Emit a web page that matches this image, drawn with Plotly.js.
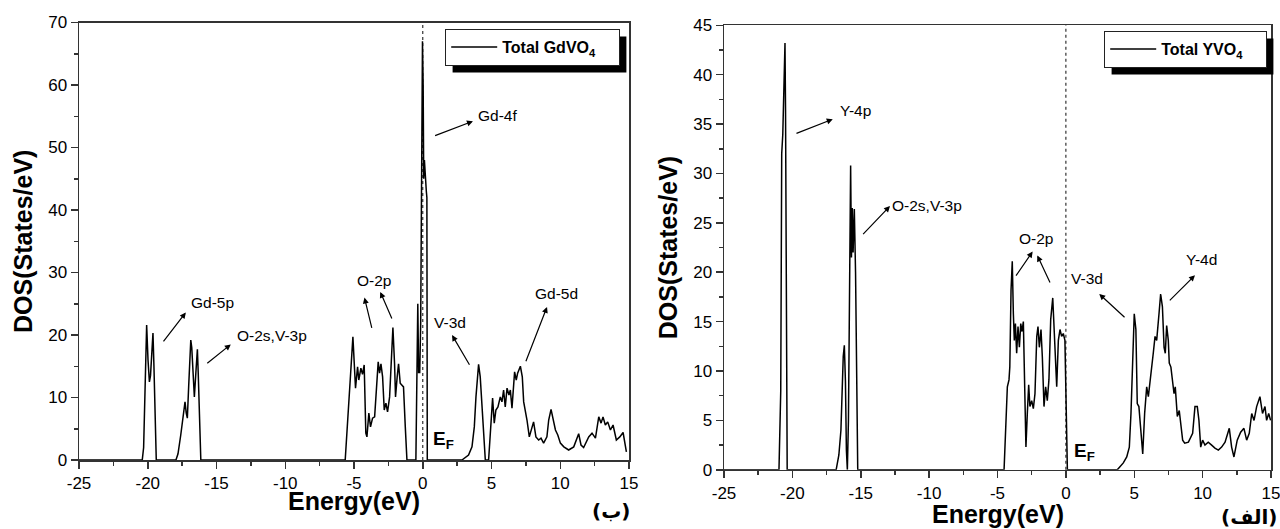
<!DOCTYPE html>
<html><head><meta charset="utf-8">
<script src="https://cdn.plot.ly/plotly-3.0.1.min.js"></script>
<style>html,body{margin:0;padding:0;background:#fff;} #chart{width:1280px;height:529px;}</style>
</head><body><div id="chart"></div>
<script>
// ---------- data ----------
const gdEnergy = [-25, -20.4, -20.3, -20.2, -20.08, -19.98, -19.88, -19.8, -19.72, -19.62, -19.55, -19.45, -19.38,
  -17.95, -17.8, -17.6, -17.4, -17.29, -17.2, -17.12, -17.02, -16.94, -16.87, -16.8, -16.7, -16.61, -16.5, -16.39, -16.33, -16.22, -16.14,
  -5.64, -5.35, -5.23, -5.08, -4.96, -4.89, -4.74, -4.65, -4.50, -4.38, -4.26, -4.14, -4.06, -3.92, -3.8, -3.65, -3.5, -3.33, -3.24, -3.14,
  -3.04, -2.92, -2.8, -2.68, -2.56, -2.41, -2.29, -2.17, -2.05, -1.98, -1.86, -1.76, -1.64, -1.52, -1.40, -1.27, -1.15,
  -0.5, -0.42, -0.36, -0.3, -0.22, -0.15, -0.08, -0.02, 0.03, 0.07, 0.12, 0.18, 0.26, 0.3, 0.33,
  2.85, 3.33, 3.58, 3.75, 3.87, 4.06, 4.18, 4.31, 4.43, 4.55, 4.79, 4.96, 5.08, 5.2, 5.32, 5.47, 5.64, 5.76, 5.88, 6.0,
  6.13, 6.27, 6.37, 6.49, 6.61, 6.68, 6.8, 6.9, 7.1, 7.24, 7.34, 7.46, 7.58, 7.75, 7.89, 8.06, 8.23, 8.43, 8.6, 8.79,
  9.03, 9.16, 9.33, 9.48, 9.65, 9.82, 10.01, 10.26, 10.61, 10.98, 11.34, 11.51, 11.7, 12.07, 12.31, 12.56, 12.8, 12.97, 13.11, 13.28,
  13.45, 13.65, 13.84, 14.08, 14.33, 14.57, 14.69, 14.81];
const gdDos = [0, 0, 2, 12, 21.6, 16, 12.5, 13.5, 16, 20.3, 15, 4, 0,
  0, 1, 4, 8, 9.3, 7.5, 6.7, 12, 17, 19.2, 18, 12.5, 10.1, 14, 17.7, 14, 5, 0,
  0, 9.05, 14.4, 19.7, 14.9, 11.5, 14.9, 12.8, 14.7, 13.7, 15.2, 4.3, 3.7, 7.5, 5.3, 6.7, 6.9, 12.3, 15.7, 13.9,
  15.4, 13.3, 8.0, 9.1, 7.7, 10.1, 15.4, 21.2, 15.4, 10.1, 13.3, 15.4, 12.3, 12.0, 11.7, 5.3, 0,
  0, 12, 25, 14, 14, 22, 40, 67, 60, 45, 48, 45, 43, 42, 0,
  0, 0.8, 2.1, 5.3, 10.1, 15.3, 13.3, 9.1, 5.3, 0, 0, 6.9, 9.9, 5.9, 8.0, 8.5, 10.1, 9.3, 11.2, 8.5,
  11.5, 10.4, 11.2, 8.3, 12.8, 14.1, 12.8, 13.9, 15.0, 13.3, 9.3, 8.0, 6.4, 3.7, 4.8, 6.1, 3.7, 3.2, 3.5, 2.7,
  3.7, 6.4, 8.1, 6.4, 4.8, 4.0, 2.7, 2.1, 1.6, 2.1, 4.2, 2.4, 2.0, 3.7, 4.3, 3.5, 6.9, 5.9, 6.9, 5.6,
  6.1, 4.8, 5.6, 3.2, 3.7, 4.4, 2.9, 1.3];

const yEnergy = [-25, -20.98, -20.85, -20.78, -20.7, -20.6, -20.54, -20.5, -20.45, -20.38,
  -16.8, -16.6, -16.45, -16.35, -16.28, -16.2, -16.12, -16.05, -15.98, -15.9, -15.82, -15.74, -15.68, -15.62, -15.56, -15.47, -15.38, -15.3, -15.22,
  -4.52, -4.28, -4.16, -4.1, -4.01, -3.92, -3.84, -3.77, -3.69, -3.60, -3.5, -3.4, -3.30, -3.21, -3.11, -3.01, -2.92, -2.82, -2.72, -2.63,
  -2.50, -2.38, -2.26, -2.13, -2.04, -1.94, -1.82, -1.72, -1.6, -1.48, -1.36, -1.24, -1.11, -0.96, -0.86, -0.77, -0.67, -0.55, -0.43, -0.31,
  -0.19, -0.07, 0.01, 0.11,
  3.76, 4.20, 4.45, 4.64, 4.76, 4.89, 5.0, 5.12, 5.22, 5.34, 5.47, 5.62, 5.76, 5.91, 6.03, 6.15, 6.27, 6.39, 6.52, 6.64,
  6.81, 6.93, 7.06, 7.18, 7.27, 7.37, 7.49, 7.56, 7.68, 7.81, 7.91, 8.0, 8.15, 8.29, 8.42, 8.54, 8.69, 8.96, 9.27, 9.44,
  9.61, 9.73, 9.86, 10.0, 10.17, 10.41, 10.66, 10.9, 11.15, 11.39, 11.64, 11.95, 12.12, 12.29, 12.53, 12.78, 13.02, 13.22, 13.41, 13.59,
  13.76, 13.95, 14.19, 14.38, 14.56, 14.68, 14.83, 14.97];
const yDos = [0, 0, 8, 32, 34, 39, 43.2, 36.4, 18, 0,
  0, 1.5, 4, 9, 11.5, 12.6, 9, 2, 0, 5, 18, 30.8, 21.5, 26.5, 22, 26.4, 20, 8, 0,
  0, 8.4, 9.1, 10.4, 18.2, 21.1, 15.8, 13.1, 14.8, 11.8, 14.5, 12.4, 14.8, 14.0, 15.0, 9.1, 2.3, 5.7, 8.6, 6.4,
  7.0, 6.2, 7.7, 13.5, 14.5, 12.4, 14.2, 11.4, 6.4, 8.4, 7.0, 9.1, 15.2, 17.4, 14.2, 10.4, 8.4, 13.1, 14.2, 13.5,
  13.8, 13.1, 5.7, 0,
  0, 0.7, 1.3, 2.3, 5.7, 11.8, 15.8, 14.2, 6.7, 6.4, 4.3, 1.6, 5.7, 8.4, 7.4, 9.1, 10.1, 11.8, 13.5, 13.1,
  15.8, 17.8, 16.5, 12.4, 11.8, 14.6, 13.1, 10.8, 10.4, 8.8, 7.7, 8.4, 5.4, 6.0, 4.3, 3.0, 2.7, 2.8, 3.7, 6.4,
  6.4, 5.0, 2.3, 3.0, 2.5, 2.8, 2.5, 2.2, 2.0, 2.3, 2.8, 4.2, 2.3, 1.3, 3.0, 3.8, 4.2, 3.0, 3.7, 5.7,
  5.0, 6.4, 7.4, 5.7, 6.4, 5.0, 5.7, 5.0];

const seriesNames = ['Total GdVO<sub>4</sub>', 'Total YVO<sub>4</sub>'];
const xTickVals = [-25, -20, -15, -10, -5, 0, 5, 10, 15];
const xTickText = ['-25', '-20', '-15', '-10', '-5', '0', '5', '10', '15'];
const xTitle = 'Energy(eV)';
const yTitle = 'DOS(States/eV)';
const gdLabels = ['Gd-5p', 'O-2s,V-3p', 'O-2p', 'V-3d', 'Gd-5d', 'Gd-4f'];
const yLabels = ['Y-4p', 'O-2s,V-3p', 'O-2p', 'V-3d', 'Y-4d'];
const panelTags = ['(ب)', '(الف)'];
const fermiLabel = 'E<sub>F</sub>';
const fermiLevel = 0;

// ---------- label placement (data units) ----------
const gdLabelPos = [[-15.32, 25.25], [-10.95, 20.0], [-3.53, 28.8], [2.0, 22.05], [9.75, 26.7], [5.42, 55.1]];
const gdArrows = [[-18.94, 18.75, -17.23, 23.6], [-15.78, 15.3, -13.96, 18.5], [-3.68, 20.9, -4.24, 26.0],
  [-2.20, 22.4, -3.09, 26.9], [3.46, 15.0, 2.13, 20.0], [7.46, 15.55, 9.04, 24.5], [0.79, 51.8, 3.65, 54.2]];
const yLabelPos = [[-15.42, 36.4], [-10.18, 26.8], [-2.15, 23.4], [1.57, 19.4], [9.92, 21.3]];
const yArrows = [[-19.81, 34.0, -17.05, 35.5], [-14.93, 23.7, -12.86, 26.7], [-3.72, 19.5, -2.43, 22.1],
  [-1.11, 18.8, -2.09, 21.7], [4.40, 15.3, 2.44, 17.8], [7.49, 17.0, 9.44, 19.7]];

const W = 1280, H = 529;
const FONT = 'Liberation Sans, Arial, sans-serif';
const px = v => v / W, py = v => 1 - v / H;
const PAD = '\u00A0'.repeat(4);

const traces = [
  {x: gdEnergy, y: gdDos, type: 'scatter', mode: 'lines', name: seriesNames[0] + PAD,
   line: {color: '#000', width: 1.5}, xaxis: 'x', yaxis: 'y', legend: 'legend'},
  {x: yEnergy, y: yDos, type: 'scatter', mode: 'lines', name: seriesNames[1] + PAD,
   line: {color: '#000', width: 1.5}, xaxis: 'x2', yaxis: 'y2', legend: 'legend2'}
];

const axisCommon = {
  showline: true, linecolor: '#333', linewidth: 1.5, mirror: true,
  ticks: 'outside', ticklen: 7, tickwidth: 1.5, tickcolor: '#333',
  showgrid: false, zeroline: false, automargin: false, ticklabeloverflow: 'allow',
  tickfont: {family: FONT, size: 17, color: '#000'}
};
function xAxis(domain, anchor) {
  return Object.assign({}, axisCommon, {
    domain: domain, anchor: anchor, range: [-25, 15],
    tickmode: 'array', tickvals: xTickVals, ticktext: xTickText,
    minor: {tick0: -25, dtick: 2.5, ticks: 'outside', ticklen: 4, tickwidth: 1.5, tickcolor: '#333', showgrid: false}
  });
}
function yAxis(domain, anchor, max, step) {
  return Object.assign({}, axisCommon, {
    domain: domain, anchor: anchor, range: [0, max], tick0: 0, dtick: step,
    minor: {tick0: 0, dtick: step / 2, ticks: 'outside', ticklen: 4, tickwidth: 1.5, tickcolor: '#333', showgrid: false},
    title: {text: yTitle, standoff: 8, font: {family: FONT, size: 25, weight: 700, color: '#000'}}
  });
}

const annotations = [];
function addPanel(labels, pos, arrows, xr, yr, ef, titleY) {
  labels.forEach((t, i) => annotations.push({
    text: t, x: pos[i][0], y: pos[i][1], xref: xr, yref: yr, showarrow: false,
    xanchor: 'center', yanchor: 'middle',
    font: {family: FONT, size: 15.5, color: '#000'}
  }));
  arrows.forEach(a => annotations.push({
    text: '', x: a[2], y: a[3], ax: a[0], ay: a[1], xref: xr, yref: yr, axref: xr, ayref: yr,
    showarrow: true, arrowhead: 2, arrowsize: 1, arrowwidth: 1.2, arrowcolor: '#000'
  }));
  annotations.push({text: fermiLabel, x: ef[0], y: ef[1], xref: xr, yref: yr, showarrow: false,
    xanchor: 'center', yanchor: 'middle',
    font: {family: FONT, size: 19, weight: 700, color: '#000'}});
  // x-axis title, centred under its own axis
  annotations.push({text: xTitle, x: 0.5, xref: xr + ' domain', y: py(titleY), yref: 'paper', showarrow: false,
    xanchor: 'center', yanchor: 'middle',
    font: {family: FONT, size: 25, weight: 700, color: '#000'}});
}
addPanel(gdLabels, gdLabelPos, gdArrows, 'x', 'y', [1.49, 3.2], 501);
addPanel(yLabels, yLabelPos, yArrows, 'x2', 'y2', [1.33, 1.8], 514);
annotations.push({text: panelTags[0], x: px(611), y: py(511), xref: 'paper', yref: 'paper', showarrow: false,
  xanchor: 'center', yanchor: 'middle',
  font: {family: 'DejaVu Sans, sans-serif', size: 20, weight: 700, color: '#000'}});
annotations.push({text: panelTags[1], x: px(1249), y: py(517), xref: 'paper', yref: 'paper', showarrow: false,
  xanchor: 'center', yanchor: 'middle',
  font: {family: 'DejaVu Sans, sans-serif', size: 20, weight: 700, color: '#000'}});

const legendCommon = {bgcolor: '#fff', bordercolor: '#222', borderwidth: 1.2, xanchor: 'left', yanchor: 'top',
  itemwidth: 46, font: {family: FONT, size: 16, weight: 700, color: '#000'}};

const SHADOW = 7;
const shapes = [
  {type: 'line', xref: 'x', yref: 'y domain', x0: fermiLevel, x1: fermiLevel, y0: 0, y1: 1,
   line: {color: '#333', width: 1.2, dash: 'dot'}, layer: 'below'},
  {type: 'line', xref: 'x2', yref: 'y2 domain', x0: fermiLevel, x1: fermiLevel, y0: 0, y1: 1,
   line: {color: '#333', width: 1.2, dash: 'dot'}, layer: 'below'},
  // legend drop shadows (re-fitted to the drawn legend boxes below)
  {type: 'rect', xref: 'paper', yref: 'paper', x0: px(452), x1: px(627), y0: py(69), y1: py(36),
   fillcolor: '#000', line: {width: 0}, layer: 'above'},
  {type: 'rect', xref: 'paper', yref: 'paper', x0: px(1111), x1: px(1267), y0: py(69), y1: py(38),
   fillcolor: '#000', line: {width: 0}, layer: 'above'}
];

const layout = {
  width: W, height: H, margin: {l: 0, r: 0, t: 0, b: 0},
  paper_bgcolor: '#fff', plot_bgcolor: '#fff', showlegend: true,
  xaxis: xAxis([px(79), px(629)], 'y'),
  yaxis: yAxis([py(460), py(22.5)], 'x', 70, 10),
  xaxis2: xAxis([px(724), px(1271)], 'y2'),
  yaxis2: yAxis([py(469.8), py(25.3)], 'x2', 45, 5),
  legend: Object.assign({}, legendCommon, {x: px(445), y: py(29)}),
  legend2: Object.assign({}, legendCommon, {x: px(1104), y: py(31)}),
  annotations: annotations,
  shapes: shapes
};

Plotly.newPlot('chart', traces, layout, {staticPlot: true, displayModeBar: false}).then(gd => {
  const root = gd.getBoundingClientRect();
  const upd = {};
  [['legend', 2], ['legend2', 3]].forEach(([cls, idx]) => {
    const bg = gd.querySelector('g.' + cls + ' rect.bg');
    if (!bg) return;
    const r = bg.getBoundingClientRect();
    const l = r.left - root.left, t = r.top - root.top;
    upd['shapes[' + idx + '].x0'] = px(l + SHADOW);
    upd['shapes[' + idx + '].x1'] = px(l + r.width + SHADOW);
    upd['shapes[' + idx + '].y1'] = py(t + SHADOW);
    upd['shapes[' + idx + '].y0'] = py(t + r.height + SHADOW);
  });
  return Plotly.relayout(gd, upd);
});
</script>
</body></html>
